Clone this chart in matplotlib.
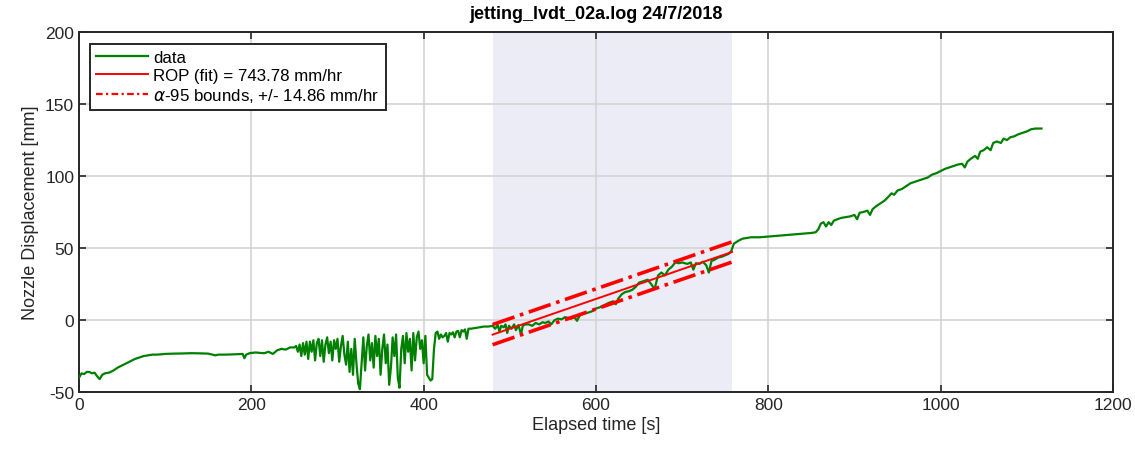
import numpy as np
import matplotlib.pyplot as plt
from matplotlib.lines import Line2D

plt.rcParams['font.family'] = ['Liberation Sans', 'DejaVu Sans']
plt.rcParams['axes.unicode_minus'] = False

# LVDT log, elapsed time [s] and nozzle displacement [mm]
t_data = [0, 3, 6, 9, 12, 15, 18, 21, 24, 27, 30, 35, 40, 45, 50, 55, 60, 65, 70, 75,
          80, 85, 90, 95, 100, 110, 120, 130, 140, 150, 155, 158, 162, 170, 180, 190,
          192, 194, 198, 205, 210, 215, 220, 225, 230, 235, 240, 245,
          250, 252, 254, 256, 258, 260, 262, 264, 266, 268, 270, 272, 274, 276, 278,
          280, 282, 284, 286, 288, 290, 292, 294, 296, 298, 300, 302, 304, 306, 308,
          310, 312, 314, 316, 318, 320, 322, 324, 326, 328, 330, 332, 334, 336, 338,
          340, 342, 344, 346, 348, 350, 352, 354, 356, 358, 360, 362, 364, 366, 368,
          370, 372, 374, 376, 378, 380, 382, 384, 386, 388, 390, 392, 394, 396, 398,
          400, 402, 404, 406, 408, 410, 412, 414, 416, 418, 420, 422, 424, 426, 428,
          430, 432, 434, 436, 438, 440, 442, 444, 446, 448, 450, 452, 455, 460, 465,
          470, 475, 480, 483, 486, 488, 490, 493, 495, 497, 499, 502, 505, 507, 510,
          513, 515, 518, 522, 526, 530, 534, 538, 541, 545, 548, 552, 556, 560, 564,
          568, 571, 575, 578, 581, 585, 590, 595, 600, 605, 610, 615, 620, 623, 626,
          630, 634, 638, 642, 646, 650, 655, 660, 664, 668, 672, 676, 680, 684, 688,
          692, 696, 700, 706, 710, 713, 716, 720, 724, 728, 731, 734, 738, 742, 746,
          750, 754, 757, 760, 765, 770, 780, 790, 800, 810, 820, 830, 840, 850, 855,
          858, 861, 864, 867, 870, 873, 876, 880, 885, 890, 895, 900, 903, 906, 910,
          915, 918, 921, 925, 930, 935, 940, 943, 946, 950, 955, 960, 965, 970, 975,
          980, 985, 990, 995, 1000, 1005, 1010, 1015, 1020, 1025, 1028, 1031, 1035,
          1040, 1043, 1046, 1050, 1054, 1058, 1061, 1065, 1070, 1073, 1077, 1081,
          1085, 1090, 1095, 1100, 1105, 1110, 1117]
y_data = [-40, -37, -37.5, -36, -36, -37, -36.5, -39, -41, -38, -37, -36.5, -35, -33,
          -31.5, -30, -28.5, -27, -26, -25, -24.5, -24, -24, -23.8, -23.5, -23.3, -23.2,
          -23, -23.1, -23.3, -24, -24.5, -24, -24, -23.8, -23.5, -26.5, -24, -23, -22.5,
          -22.8, -23, -22, -23.5, -21, -20, -20.5, -19,
          -19, -18, -22, -17, -25, -16, -24, -15, -27, -15, -22, -14, -28, -16, -13,
          -25, -14, -29, -17, -12, -23, -15, -28, -14, -20, -13, -29, -18, -11, -24,
          -31, -15, -36, -20, -38, -13, -30, -44, -48, -30, -12, -35, -18, -10, -28,
          -16, -33, -11, -25, -13, -38, -20, -10, -30, -17, -45, -33, -12, -25, -10,
          -40, -47, -20, -11, -30, -9, -22, -13, -35, -9, -28, -12, -8, -20, -14,
          -30, -11, -38, -40, -42, -41, -20, -9, -8, -13, -10, -12, -11, -9, -15,
          -9, -10, -8.5, -12, -8, -7.5, -12, -7, -8, -6.5, -13, -6, -6, -5.5, -5,
          -4.5, -4.5, -4, -6, -3.5, -8, -4, -5, -3, -9, -4, -6, -3, -7, -3.5,
          -10, -4, -3, -3, -4, -2, -3, -1.5, -2, -1, -3, 0, 1, 0.5, 2,
          1.5, 1, 2, -0.5, 3, 4.5, 5, 6, 8, 9, 10.5, 12, 13, 11, 15,
          18, 19.5, 20, 21, 23, 26, 27, 28, 25, 21.5, 31, 33, 31, 35, 37,
          40, 39.5, 40, 39, 40, 35, 39.5, 39, 40.5, 38, 33, 41, 42, 43.5, 44,
          45, 46, 48, 53, 55, 56.5, 57.5, 57.5, 58, 58.5, 59, 59.5, 60, 60.5, 61,
          63, 67, 68, 65, 68, 66, 69, 70, 71, 71.5, 72, 73, 70, 74.5, 75,
          76, 73, 77, 79, 81, 83, 86, 88, 87, 90, 91, 93, 95, 96, 97,
          98, 99, 101, 102, 103.5, 105, 106, 107, 108, 108.5, 106, 110, 112,
          114, 112, 117, 118, 120, 118, 123, 124, 123, 126, 125, 127,
          127.5, 129, 130, 131, 132.5, 133, 133]

# fit window and result
fit_start, fit_end = 480, 758
rop = 743.78          # mm/hr
fit_mid_y = 18.6      # fitted displacement at window centre [mm]
band = 7.0            # half width of the alpha-95 band [mm]

fig = plt.figure(figsize=(11.35, 4.56), dpi=100)
ax = fig.add_axes([0.0696, 0.138, 0.911, 0.7895])

ax.axvspan(fit_start, fit_end, color='#ececf6', lw=0, zorder=0)

ax.plot(t_data, y_data, color='#008000', lw=1.6, zorder=3)

tf = np.array([fit_start, fit_end])
yf = fit_mid_y + rop / 3600 * (tf - (fit_start + fit_end) / 2)
ax.plot(tf, yf, color='red', lw=1.4, zorder=4)
ax.plot(tf, yf + band, color='red', lw=2.6, ls='-.', zorder=4)
ax.plot(tf, yf - band, color='red', lw=2.6, ls='-.', zorder=4)

ax.set_xlim(0, 1200)
ax.set_ylim(-50, 200)
ax.set_xticks(range(0, 1201, 200))
ax.set_yticks(range(-50, 201, 50))
ax.grid(True, color='#d4d4d4', lw=1.2)
ax.set_axisbelow(True)
ax.tick_params(direction='in', top=True, right=True, length=5, width=1.2,
               labelsize=12.5, colors='#262626')
for s in ax.spines.values():
    s.set_linewidth(1.4)
    s.set_color('#262626')

ax.set_xlabel('Elapsed time [s]', fontsize=13, color='#262626', labelpad=3)
ax.set_ylabel('Nozzle Displacement [mm]', fontsize=13, color='#262626', labelpad=4)
ax.set_title('jetting_lvdt_02a.log 24/7/2018', fontsize=13, fontweight='bold', pad=10)

handles = [Line2D([], [], color='#008000', lw=1.6),
           Line2D([], [], color='red', lw=1.4),
           Line2D([], [], color='red', lw=1.6, ls=(0, (3, 1.5, 1, 1.5)))]
labels = ['data', 'ROP (fit) = 743.78 mm/hr', r'$\alpha$-95 bounds, +/- 14.86 mm/hr']
leg = ax.legend(handles, labels, loc='upper left',
                bbox_to_anchor=(0.0105, 0.968), fontsize=12.2, fancybox=False,
                framealpha=1, edgecolor='#262626', borderpad=0.35,
                labelspacing=0.2, handlelength=3.1, handletextpad=0.3,
                borderaxespad=0)
leg.get_frame().set_linewidth(1.4)

fig.savefig('out.png', dpi=100)
